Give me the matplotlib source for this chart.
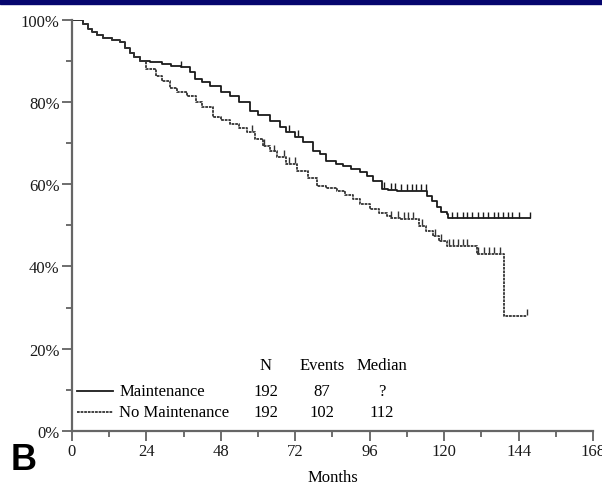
#Kaplan-Meier style survival curves, maintenance vs no maintenance

import numpy as np
import matplotlib
matplotlib.use('Agg')
import matplotlib.pyplot as plt
from matplotlib.patches import Rectangle

plt.rcParams['font.family'] = ['Liberation Serif', 'DejaVu Serif']

# step curves (months, % surviving)
maint_t = [0, 3.5, 5, 6.5, 8, 10, 13, 15.5, 17, 18.7, 20, 22, 25, 29, 32, 35, 38, 39.7,
           42, 44.5, 48, 51, 54, 57.4, 60, 64, 67, 69, 72, 74.5, 77.7, 80, 82, 85, 87.4,
           90, 93, 95, 97, 100, 102, 104.7, 114.4, 116, 117.6, 119, 120.8, 121.4, 147.7]
maint_s = [100, 99, 97.7, 97, 96.4, 95.5, 95, 94.5, 93, 91.8, 91, 90, 89.6, 89.2, 88.8,
           88.4, 87.2, 85.6, 84.8, 84, 82.5, 81.5, 80, 77.9, 76.8, 75.4, 74, 72.7, 71.5,
           70.3, 68.1, 67.3, 65.7, 65, 64.5, 63.8, 63, 62, 60.9, 58.8, 58.6, 58.4, 57.2,
           56, 54.5, 53.3, 52.8, 51.7, 51.7]

nomaint_t = [0, 3.5, 5, 6.5, 8, 10, 13, 15.5, 17, 18.7, 20, 22, 24, 27, 29, 31.6, 34, 37,
             40, 42, 45.5, 48, 51, 54, 56.4, 59, 61.6, 64, 66, 69, 72.5, 76, 79, 82, 85.4,
             88, 90.6, 93, 96, 99, 101.5, 103, 105.8, 110, 112, 114, 116.5, 118.5, 120.8,
             128.3, 130.5, 138.6, 139.3, 146.6]
nomaint_s = [100, 99, 97.7, 97, 96.4, 95.5, 95, 94.5, 93, 91.8, 91, 90, 88, 86.4, 85,
             83.5, 82.5, 81.5, 80, 78.8, 76.3, 75.5, 74.6, 73.6, 72.7, 71, 69.4, 68, 66.6,
             65, 63.3, 61.5, 59.6, 59, 58.4, 57.5, 56.4, 55.3, 54, 53, 52.3, 51.8, 51.5,
             51.5, 49.9, 48.7, 47.5, 46.3, 45, 45, 43, 43, 28, 28]

# censoring marks
maint_cens = [35, 70, 73, 100.5, 103, 104, 106, 108, 109.5, 111, 112.5, 114, 122.5, 124,
              126, 127.5, 129, 131, 132.5, 134, 136, 137.5, 139, 140.5, 142, 144, 147.7]
nomaint_cens = [58, 62, 65, 68.5, 70, 72, 103, 105, 107, 108.5, 110, 113, 117, 119, 121.5,
                123, 124.5, 126, 127.5, 131, 133, 134.5, 136, 138, 146.6]

groups = ['Maintenance', 'No Maintenance']
n_pat = ['192', '192']
events = ['87', '102']
medians = ['?', '112']

x_ticks = [0, 24, 48, 72, 96, 120, 144, 168]
y_ticks = [0, 20, 40, 60, 80, 100]


def step_value(t, s, c):
    i = np.searchsorted(t, c, side='right') - 1
    return np.array(s)[i]


fig = plt.figure(figsize=(6.02, 4.89), dpi=100)
fig.add_artist(Rectangle((0, 1 - 5 / 489), 1, 5 / 489, transform=fig.transFigure,
                         color='#06066e', zorder=5))

ax = fig.add_axes([72 / 602, 57 / 489, 521 / 602, 411.3 / 489])

styles = [dict(color='#1a1a1a', lw=1.3, ls='-'),
          dict(color='#333333', lw=1.3, ls=(0, (1.5, 0.5)))]

ax.step(maint_t, maint_s, where='post', **styles[0])
ax.step(nomaint_t, nomaint_s, where='post', **styles[1])
ax.plot(maint_cens, step_value(maint_t, maint_s, maint_cens) + 0.9, ls='none',
        marker='|', ms=5, mew=1.0, color='#1a1a1a')
ax.plot(nomaint_cens, step_value(nomaint_t, nomaint_s, nomaint_cens) + 0.9, ls='none',
        marker='|', ms=5, mew=1.0, color='#333333')

ax.set_xlim(0, 168)
ax.set_ylim(0, 100)
ax.set_xticks(x_ticks)
ax.set_xticks(np.arange(12, 168, 24), minor=True)
ax.set_yticks(y_ticks)
ax.set_yticklabels([f'{v}%' for v in y_ticks])
ax.set_yticks(np.arange(10, 100, 20), minor=True)
ax.tick_params(axis='both', which='major', labelsize=12, length=7, width=1.2,
               color='#555555', labelcolor='#1a1a1a', pad=2)
ax.tick_params(axis='both', which='minor', length=4, width=1.2, color='#555555')

for side in ['top', 'right']:
    ax.spines[side].set_visible(False)
for side in ['left', 'bottom']:
    ax.spines[side].set_color('#666666')
    ax.spines[side].set_linewidth(1.6)

# legend table
cols = [62.5, 80.6, 100]
ax.text(cols[0], 16.0, 'N', ha='center', va='center', fontsize=12)
ax.text(cols[1], 16.0, 'Events', ha='center', va='center', fontsize=12)
ax.text(cols[2], 16.0, 'Median', ha='center', va='center', fontsize=12)
rows = [9.7, 4.6]
for k in range(2):
    ax.plot([1.6, 13.2], [rows[k], rows[k]], **styles[k])
    ax.text(15.2, rows[k], groups[k], ha='left', va='center', fontsize=12)
    ax.text(cols[0], rows[k], n_pat[k], ha='center', va='center', fontsize=12)
    ax.text(cols[1], rows[k], events[k], ha='center', va='center', fontsize=12)
    ax.text(cols[2], rows[k], medians[k], ha='center', va='center', fontsize=12)

fig.text(333 / 602, 1 - 478 / 489, 'Months', ha='center', va='center', fontsize=12)
fig.text(23.5 / 602, 1 - 461 / 489, 'B', ha='center', va='center', fontsize=26,
         fontweight='bold', family=['Liberation Sans', 'DejaVu Sans'])

fig.savefig('out.png', dpi=100)
